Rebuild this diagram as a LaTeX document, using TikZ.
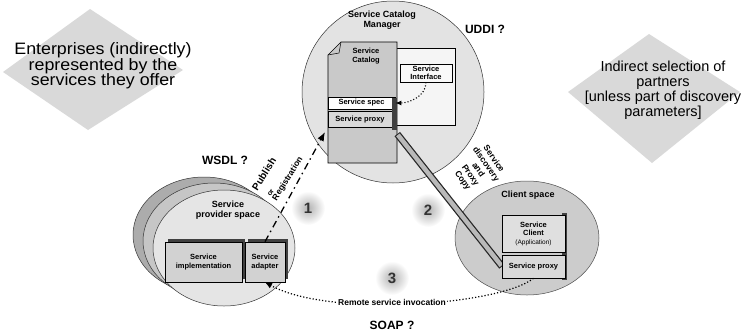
\documentclass[tikz,border=0pt]{standalone}
\usepackage{fontspec}
\setmainfont{Liberation Sans}
\newfontfamily\widefont[FakeStretch=1.08]{Liberation Sans}
\usetikzlibrary{arrows.meta,calc}
\begin{document}
\begin{tikzpicture}[x=1pt,y=-1pt,
  tsm/.style={font=\bfseries\fontsize{7.5}{8.5}\selectfont, align=center, inner sep=0pt},
  tmd/.style={font=\bfseries\fontsize{9}{10}\selectfont, align=center, inner sep=0pt},
  big/.style={font=\bfseries\fontsize{12}{14}\selectfont, inner sep=0pt},
  box/.style={draw=black, line width=0.6pt, inner sep=0pt, align=center, font=\bfseries\fontsize{7.5}{8.5}\selectfont},
  halo/.style={inner color=gray!60, outer color=white},
  numtxt/.style={font=\bfseries\fontsize{15}{15}\selectfont, text=black!80, inner sep=0pt},
  shad/.style={fill=black!75},
  cfill/.style={fill=gray!22, draw=black!80, line width=0.5pt},
  publbl/.style={rotate=58, inner sep=0pt, font=\bfseries}
]
\useasboundingbox (0,0) rectangle (746,335);

% ---------- left diamond and text
\fill[gray!30] (90,9) -- (183,70) -- (88,130) -- (3,72) -- cycle;
\node[font=\widefont\fontsize{16.5}{15.5}\selectfont, align=center, inner sep=0pt] (ent) at (103,66)
  {Enterprises (indirectly)\\represented by the\\services they offer};

% ---------- right diamond and text
\fill[gray!30] (649,34) -- (740,92) -- (652,163) -- (568,92) -- cycle;
\node[font=\fontsize{14.5}{15}\selectfont, align=center, inner sep=0pt] (sel) at (663,90)
  {Indirect selection of\\partners\\{[}unless part of discovery\\parameters{]}};

% ---------- Service catalog manager
\filldraw[cfill] (393,92) circle (91);
\node[tmd] (mgr) at (382,20) {Service Catalog\\Manager};
\filldraw[fill=gray!8, draw=black, line width=0.5pt] (385,48) rectangle (455,125);
\filldraw[fill=gray!42, draw=black, line width=0.6pt]
  (341,42) -- (397,42) -- (397,163) -- (328,163) -- (328,55) -- cycle;
\draw[line width=0.5pt] (341,42) -- (339,53) -- (328,55);
\node[tsm] (cat) at (366,56) {Service\\Catalog};
\node[box, fill=white, minimum width=67, minimum height=12] (spec) at (361.5,103) {Service spec};
\node[box, fill=gray!30, minimum width=64, minimum height=16] (cproxy) at (360,119.5) {Service proxy};
\fill[shad] (392,98) rectangle (397,130);
\node[box, fill=gray!5, minimum width=52, minimum height=18] (iface) at (426,73) {Service\\Interface};
\draw[dotted, line width=1.1pt, -{Latex[length=6pt,width=5pt]}]
  (iface.south) .. controls +(0,14) and +(14,0) .. (spec.east);
\node[big] (uddi) at (485,29) {UDDI ?};

% ---------- Service provider space
\filldraw[fill=gray!65, draw=black!80, line width=0.5pt] (204,235) ellipse [x radius=71, y radius=58];
\filldraw[fill=gray!45, draw=black!80, line width=0.5pt] (214,241) ellipse [x radius=71, y radius=58];
\filldraw[fill=gray!20, draw=black!80, line width=0.5pt] (224,248) ellipse [x radius=71, y radius=58];
\node[tmd] (prov) at (228,210) {Service\\provider space};
\fill[shad] (168,239) rectangle (245,279);
\node[box, fill=gray!35, minimum width=77, minimum height=40] (impl) at (203.5,262) {Service\\implementation};
\fill[shad] (248,239) rectangle (288,279);
\node[box, fill=gray!35, minimum width=40, minimum height=40] (adapter) at (265,262) {Service\\adapter};
\node[big] (wsdl) at (225,160) {WSDL ?};

% ---------- publish
\coordinate (pubtip) at (325,132);
\draw[line width=1.3pt, dash pattern=on 7pt off 4pt on 1.5pt off 4pt, -{Latex[length=9pt,width=7pt]}]
  (adapter.north) -- (pubtip);
\node[publbl, font=\bfseries\fontsize{10}{11}\selectfont] (pub1) at (264,174) {Publish};
\node[publbl, font=\bfseries\fontsize{7}{8}\selectfont] (pub2) at (271,193) {or};
\node[publbl, font=\bfseries\fontsize{8.5}{9}\selectfont] (pub3) at (288,179) {Registration};

% ---------- client space
\filldraw[fill=gray!40, draw=black!70, line width=0.5pt] (527,238) ellipse [x radius=72, y radius=57];
\node[tmd] (cls) at (528,195) {Client space};
\draw[line width=7pt, black!85, shorten <=8pt] (cproxy.south east) -- (502,266.5);
\draw[line width=4.5pt, gray!55, shorten <=9pt, shorten >=1pt] (cproxy.south east) -- (502,266.5);
\fill[shad] (562,213) rectangle (567,280);
\node[box, fill=gray!25, minimum width=63, minimum height=37] (client) at (533.5,233.5)
  {Service\\Client\\{\mdseries\fontsize{6.5}{7.5}\selectfont (Application)}};
\node[box, fill=gray!30, minimum width=63, minimum height=23] (clproxy) at (533.5,266.5) {Service proxy};
\node[rotate=-55, font=\bfseries\fontsize{8.5}{9.5}\selectfont, align=center, inner sep=0pt] (disc) at (478,170)
  {Service\\discovery\\and\\Proxy\\Copy};

% ---------- remote invocation
\draw[dotted, line width=1.2pt, -{Latex[length=7pt,width=6pt]}]
  (clproxy.south) .. controls (500,305) and (330,318) .. (adapter.south);
\node[font=\bfseries\fontsize{8.5}{9}\selectfont, fill=white, inner sep=1pt] (rsi) at (392,302) {Remote service invocation};
\node[big] (soap) at (392,325) {SOAP ?};

% ---------- numbers
\shade[halo] (308,208) circle (17);
\node[numtxt] (n1) at (308,208) {1};
\shade[halo] (428,210) circle (17);
\node[numtxt] (n2) at (428,210) {2};
\shade[halo] (392,278) circle (17);
\node[numtxt] (n3) at (392,278) {3};
\end{tikzpicture}
\end{document}
